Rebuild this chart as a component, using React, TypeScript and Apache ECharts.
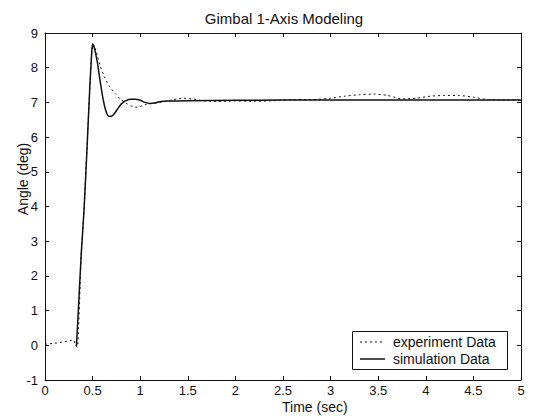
import React, { useEffect, useRef } from "react";
import * as echarts from "echarts";

// Step response of the gimbal axis: measured vs. simulated angle
const chartTitle = "Gimbal 1-Axis Modeling";
const xAxisName = "Time (sec)";
const yAxisName = "Angle (deg)";
const seriesNames = ["experiment Data", "simulation Data"];

const experimentTime = [
  0, 0.1, 0.2, 0.3, 0.32, 0.34, 0.38, 0.41, 0.44, 0.47, 0.49, 0.5, 0.52, 0.55, 0.58,
  0.63, 0.68, 0.74, 0.79, 0.85, 0.92, 0.97, 1.02, 1.07, 1.15, 1.25, 1.35, 1.45, 1.55,
  1.65, 1.8, 2.0, 2.2, 2.4, 2.6, 2.8, 3.0, 3.15, 3.3, 3.45, 3.6, 3.75, 3.9, 4.05, 4.2,
  4.35, 4.5, 4.65, 4.8, 5.0,
];
const experimentAngle = [
  0.03, 0.06, 0.1, 0.15, 0.0, -0.05, 2.6, 3.9, 5.6, 7.4, 8.4, 8.68, 8.6, 8.35, 8.05,
  7.7, 7.45, 7.25, 7.1, 6.98, 6.88, 6.86, 6.9, 6.95, 6.98, 7.02, 7.08, 7.12, 7.1,
  7.05, 7.03, 7.04, 7.03, 7.05, 7.08, 7.08, 7.12, 7.18, 7.22, 7.24, 7.2, 7.1, 7.12,
  7.18, 7.2, 7.2, 7.15, 7.08, 7.07, 7.07,
];

const simulationTime = [
  0.33, 0.35, 0.38, 0.41, 0.44, 0.47, 0.49, 0.5, 0.52, 0.55, 0.58, 0.61, 0.64, 0.67,
  0.7, 0.73, 0.76, 0.8, 0.85, 0.9, 0.95, 1.0, 1.05, 1.1, 1.15, 1.2, 1.3, 1.5, 2.0, 3.0,
  4.0, 5.0,
];
const simulationAngle = [
  -0.03, 1.0, 2.6, 3.9, 5.6, 7.4, 8.4, 8.68, 8.55, 8.15, 7.6, 7.1, 6.75, 6.6, 6.6,
  6.68, 6.8, 6.95, 7.05, 7.09, 7.09, 7.06, 7.0, 6.97, 6.98, 7.02, 7.04, 7.05, 7.06,
  7.07, 7.07, 7.07,
];

const font = "'Liberation Sans', Arial, Helvetica, sans-serif";
const ink = "#111";

const pairs = (xs: number[], ys: number[]) => xs.map((x, i) => [x, ys[i]]);

export default function App() {
  const ref = useRef<HTMLDivElement>(null);

  useEffect(() => {
    const chart = echarts.init(ref.current!, null, { renderer: "svg" });

    const axisCommon = {
      axisLine: { show: true, onZero: false, lineStyle: { color: ink, width: 1 } },
      axisTick: { show: true, inside: true, length: 4, lineStyle: { color: ink } },
      splitLine: { show: false },
    };
    const labelStyle = { color: ink, fontSize: 13, fontFamily: font };

    chart.setOption({
      animation: false,
      backgroundColor: "#fff",
      title: {
        text: chartTitle,
        left: 279,
        textAlign: "center",
        top: 6,
        textStyle: { color: ink, fontSize: 15, fontWeight: "normal", fontFamily: font },
      },
      grid: { left: 45, right: 20, top: 33, bottom: 36, containLabel: false },
      xAxis: [
        {
          type: "value",
          min: 0,
          max: 5,
          interval: 0.5,
          position: "bottom",
          ...axisCommon,
          axisLabel: { ...labelStyle, margin: 4, formatter: (v: number) => String(v) },
        },
        {
          type: "value",
          min: 0,
          max: 5,
          interval: 0.5,
          position: "top",
          ...axisCommon,
          axisLabel: { show: false },
        },
      ],
      yAxis: [
        {
          type: "value",
          min: -1,
          max: 9,
          interval: 1,
          position: "left",
          ...axisCommon,
          axisLabel: { ...labelStyle, margin: 7 },
        },
        {
          type: "value",
          min: -1,
          max: 9,
          interval: 1,
          position: "right",
          ...axisCommon,
          axisLabel: { show: false },
        },
      ],
      series: [
        {
          name: seriesNames[0],
          type: "line",
          xAxisIndex: 0,
          yAxisIndex: 0,
          showSymbol: false,
          smooth: 0.2,
          data: pairs(experimentTime, experimentAngle),
          lineStyle: { color: ink, width: 1, type: [2, 3] },
          z: 3,
        },
        {
          name: seriesNames[1],
          type: "line",
          xAxisIndex: 0,
          yAxisIndex: 0,
          showSymbol: false,
          smooth: 0.2,
          data: pairs(simulationTime, simulationAngle),
          lineStyle: { color: ink, width: 1.5 },
          z: 2,
        },
      ],
      graphic: [
        {
          type: "text",
          left: 282,
          top: 400,
          style: { text: xAxisName, fill: ink, fontSize: 14, fontFamily: font },
        },
        {
          type: "text",
          x: 23,
          y: 179,
          rotation: Math.PI / 2,
          style: {
            text: yAxisName,
            fill: ink,
            fontSize: 14,
            fontFamily: font,
            align: "center",
            verticalAlign: "middle",
          },
        },
        {
          type: "rect",
          shape: { x: 352.5, y: 331.5, width: 155, height: 38 },
          style: { fill: "#fff", stroke: ink, lineWidth: 1 },
          z: 10,
        },
        {
          type: "line",
          shape: { x1: 360, y1: 342, x2: 385, y2: 342 },
          style: { stroke: ink, lineWidth: 1, lineDash: [2, 3] },
          z: 11,
        },
        {
          type: "line",
          shape: { x1: 360, y1: 359, x2: 385, y2: 359 },
          style: { stroke: ink, lineWidth: 1.5 },
          z: 11,
        },
        {
          type: "text",
          x: 393,
          y: 342,
          style: {
            text: seriesNames[0],
            fill: ink,
            fontSize: 14,
            fontFamily: font,
            verticalAlign: "middle",
          },
          z: 11,
        },
        {
          type: "text",
          x: 393,
          y: 359,
          style: {
            text: seriesNames[1],
            fill: ink,
            fontSize: 14,
            fontFamily: font,
            verticalAlign: "middle",
          },
          z: 11,
        },
      ],
    });

    return () => chart.dispose();
  }, []);

  return (
    <div
      ref={ref}
      style={{ position: "absolute", left: 0, top: 0, width: 541, height: 416 }}
    />
  );
}
